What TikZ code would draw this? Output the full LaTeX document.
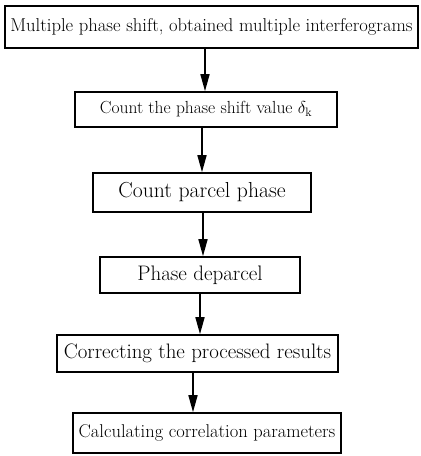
\documentclass[tikz,border=0pt]{standalone}
\usepackage{fontspec}
\usetikzlibrary{arrows.meta}
\newcommand{\fs}[1]{\fontsize{#1}{#1}\selectfont\addfontfeature{FakeBold=0.6}}
\begin{document}
\begin{tikzpicture}[x=1pt,y=-1pt,
  box/.style={draw,line width=1.6pt,inner sep=0pt,anchor=center},
  arr/.style={line width=1.6pt,-{Triangle[length=17pt,width=9pt]}}]
\useasboundingbox (0,0) rectangle (421,456);
\node[box,minimum width=413pt,minimum height=42pt,font=\fs{18.6}] (b1) at (211.5,27) {Multiple phase shift, obtained multiple interferograms};
\node[box,minimum width=262pt,minimum height=35pt,font=\fs{17.5}] (b2) at (206,109.5) {Count the phase shift value $\delta_{\mathrm k}$};
\node[box,minimum width=218pt,minimum height=39pt,font=\fs{21.7}] (b3) at (202,192.5) {Count parcel phase};
\node[box,minimum width=200pt,minimum height=36pt,font=\fs{21}] (b4) at (200,275) {Phase deparcel};
\node[box,minimum width=281pt,minimum height=37pt,font=\fs{20.9}] (b5) at (197.5,353.5) {Correcting the processed results};
\node[box,minimum width=268pt,minimum height=40pt,font=\fs{18.5}] (b6) at (207,433) {Calculating correlation parameters};
\draw[arr] (b1.south -| 205,0) -- (b2.north -| 205,0);
\draw[arr] (b2.south -| 202,0) -- (b3.north -| 202,0);
\draw[arr] (b3.south -| 203,0) -- (b4.north -| 203,0);
\draw[arr] (b4.south -| 200,0) -- (b5.north -| 200,0);
\draw[arr] (b5.south -| 193,0) -- (b6.north -| 193,0);
\end{tikzpicture}
\end{document}
